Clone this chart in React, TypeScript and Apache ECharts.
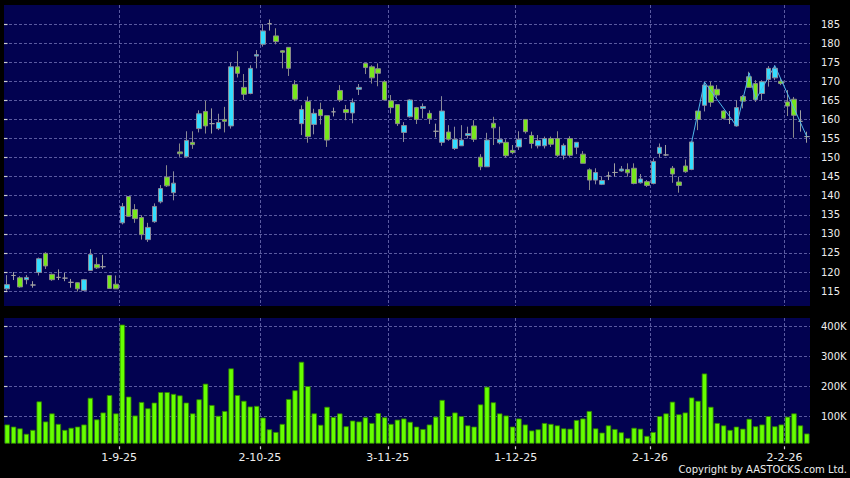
import React, { useEffect, useRef } from "react";
import * as echarts from "echarts";

const dates = [
  "2025-08-06","2025-08-07","2025-08-08","2025-08-11","2025-08-12","2025-08-13","2025-08-14","2025-08-15","2025-08-18","2025-08-19","2025-08-20","2025-08-21","2025-08-22","2025-08-25","2025-08-26","2025-08-27","2025-08-28","2025-08-29",
  "2025-09-01","2025-09-02","2025-09-03","2025-09-04","2025-09-05","2025-09-08","2025-09-09","2025-09-10","2025-09-11","2025-09-12","2025-09-15","2025-09-16","2025-09-17","2025-09-18","2025-09-19","2025-09-22","2025-09-23","2025-09-24","2025-09-25","2025-09-26","2025-09-29","2025-09-30",
  "2025-10-02","2025-10-03","2025-10-06","2025-10-08","2025-10-09","2025-10-10","2025-10-13","2025-10-14","2025-10-15","2025-10-16","2025-10-17","2025-10-20","2025-10-21","2025-10-22","2025-10-23","2025-10-24","2025-10-27","2025-10-28","2025-10-30","2025-10-31",
  "2025-11-03","2025-11-04","2025-11-05","2025-11-06","2025-11-07","2025-11-10","2025-11-11","2025-11-12","2025-11-13","2025-11-14","2025-11-17","2025-11-18","2025-11-19","2025-11-20","2025-11-21","2025-11-24","2025-11-25","2025-11-26","2025-11-27","2025-11-28",
  "2025-12-01","2025-12-02","2025-12-03","2025-12-04","2025-12-05","2025-12-08","2025-12-09","2025-12-10","2025-12-11","2025-12-12","2025-12-15","2025-12-16","2025-12-17","2025-12-18","2025-12-19","2025-12-22","2025-12-23","2025-12-24","2025-12-29","2025-12-30","2025-12-31",
  "2026-01-02","2026-01-05","2026-01-06","2026-01-07","2026-01-08","2026-01-09","2026-01-12","2026-01-13","2026-01-14","2026-01-15","2026-01-16","2026-01-19","2026-01-20","2026-01-21","2026-01-22","2026-01-23","2026-01-26","2026-01-27","2026-01-28","2026-01-29","2026-01-30",
  "2026-02-02","2026-02-03","2026-02-04","2026-02-05",
];

// [open, close, low, high]
const candles = [
  [115.6,116.7,115.1,119.2],[119.1,119.1,117.9,120.0],[118.5,116.1,115.9,118.9],[118.0,118.6,116.8,119.2],[116.6,116.6,115.9,117.6],
  [119.9,123.5,119.1,123.8],[124.9,121.6,120.8,125.2],[119.4,118.0,117.7,119.6],[118.6,118.6,117.9,120.7],[118.4,118.4,117.6,119.8],
  [117.3,117.3,115.9,118.2],[117.2,115.6,114.9,117.3],[115.2,118.0,115.1,118.2],[120.4,124.6,120.3,126.0],[122.0,121.1,120.8,123.8],
  [121.4,121.4,120.8,124.5],[119.1,115.7,115.6,119.1],[116.8,115.6,115.6,119.1],[132.9,137.2,132.5,138.1],[139.8,134.6,134.5,139.8],
  [136.4,134.0,132.9,137.8],[134.3,129.8,128.5,134.9],[128.5,131.7,127.9,132.9],[133.2,137.2,132.9,138.0],[138.4,141.9,138.0,142.8],
  [144.9,142.6,142.3,148.0],[140.8,143.3,138.8,146.4],[151.5,151.0,150.2,153.7],[150.2,154.5,150.0,156.9],[154.0,153.4,152.3,156.9],
  [157.6,161.5,156.6,162.4],[162.1,158.3,156.3,164.9],[158.9,158.9,156.3,162.9],[157.6,159.2,157.2,161.5],[160.0,159.5,156.6,163.3],
  [158.3,173.8,157.6,174.9],[173.8,172.1,171.0,177.9],[168.4,166.6,165.1,171.9],[166.8,173.4,166.6,174.2],[176.6,177.0,173.4,178.2],
  [179.7,183.2,179.1,185.0],[185.1,185.1,183.3,186.2],[181.9,180.4,179.7,183.9],[178.0,177.6,173.4,178.2],[178.9,173.4,171.4,178.9],
  [169.2,165.3,164.8,170.3],[158.9,162.6,155.9,163.7],[164.7,155.5,153.9,166.0],[158.7,161.6,156.1,162.8],[162.6,161.0,158.7,164.4],
  [161.0,154.6,152.8,161.0],[162.0,162.0,160.8,163.1],[167.6,165.1,164.6,169.0],[162.6,161.8,159.8,163.8],[161.7,164.5,159.0,165.5],
  [167.9,168.4,166.4,169.3],[174.7,173.6,171.9,174.9],[173.8,170.9,169.4,174.2],[173.3,172.1,168.7,174.7],[169.9,165.1,165.1,170.3],
  [164.9,163.1,161.6,166.4],[163.9,158.9,158.3,163.9],[156.6,158.4,154.1,159.3],[160.7,165.1,160.5,165.3],[163.1,160.0,158.8,163.3],
  [162.9,163.4,160.3,164.2],[161.6,160.2,158.8,162.4],[156.9,156.9,155.3,158.9],[154.0,162.2,153.1,166.1],[156.7,154.8,154.4,158.5],
  [152.4,154.8,152.0,158.1],[153.1,154.6,153.1,158.5],[155.8,156.3,155.0,158.1],[158.3,154.8,154.1,159.8],[150.1,147.6,146.7,150.9],
  [147.6,154.6,147.6,156.5],[159.0,157.8,153.3,160.7],[153.9,154.8,153.5,158.1],[154.0,150.5,150.0,154.8],[151.9,151.3,150.9,153.3],
  [152.8,154.8,152.0,156.9],[160.0,156.8,156.3,160.0],[155.8,153.7,152.4,156.8],[153.1,154.5,152.4,155.9],[153.1,155.0,152.4,155.5],
  [155.0,153.5,152.8,155.5],[155.0,150.6,150.2,156.9],[150.6,153.2,149.5,153.7],[155.0,150.6,150.2,155.6],[152.7,154.0,150.9,154.0],
  [150.9,148.5,148.5,151.7],[146.8,144.1,141.5,147.2],[144.1,146.1,143.0,147.2],[143.0,144.0,142.8,145.0],[145.2,145.2,144.1,146.3],
  [146.1,146.1,145.0,148.5],[146.5,147.0,146.3,147.8],[146.9,146.0,145.0,148.5],[147.2,143.2,143.0,148.5],[143.4,144.4,143.2,145.7],
  [143.7,142.7,142.3,144.1],[143.2,149.0,143.0,149.8],[151.1,152.7,150.0,153.7],[150.7,150.7,150.4,153.3],[147.2,145.7,143.4,147.8],
  [143.6,142.7,140.8,145.0],[147.8,146.3,146.0,149.5],[146.9,154.1,146.7,154.1],[162.2,160.0,157.2,162.2],[163.7,169.0,162.1,169.9],
  [168.8,164.5,163.3,169.9],[167.9,166.4,165.5,169.0],[162.2,160.3,160.0,162.4],[160.0,160.0,158.8,162.2],[158.3,163.1,158.1,165.1],
  [166.0,164.8,162.9,166.4],[171.2,168.4,168.4,172.5],[169.4,165.2,164.6,170.3],[166.8,169.9,165.1,170.3],[170.5,173.4,168.6,174.0],
  [170.9,173.4,170.3,174.2],[170.0,169.4,169.0,170.8],[164.6,163.5,160.9,167.7],[165.3,161.1,155.2,165.9],[159.5,159.5,156.8,162.4],
  [155.5,155.5,153.9,156.8],
];

const volumes = [
  74000,67000,61000,43000,56000,151000,84000,111000,76000,56000,
  63000,67000,74000,163000,91000,114000,172000,111000,407000,167000,
  104000,149000,128000,147000,182000,182000,176000,171000,147000,111000,
  158000,210000,139000,103000,119000,261000,172000,153000,134000,136000,
  97000,58000,49000,76000,159000,188000,283000,202000,111000,73000,
  133000,99000,111000,68000,87000,84000,98000,79000,112000,98000,
  76000,90000,94000,83000,67000,59000,74000,100000,156000,102000,
  114000,102000,71000,67000,141000,200000,148000,111000,104000,67000,
  94000,74000,54000,58000,79000,76000,71000,61000,60000,89000,
  94000,119000,61000,47000,71000,59000,48000,29000,63000,60000,
  36000,49000,102000,111000,150000,108000,114000,164000,153000,244000,
  133000,79000,71000,56000,67000,60000,93000,68000,74000,102000,
  68000,74000,100000,111000,71000,44000,
];

const trendPoints = [
  ["2026-01-12", 154.1],
  ["2026-01-14", 169.8],
  ["2026-01-21", 158.3],
  ["2026-01-23", 172.2],
  ["2026-01-26", 165.1],
  ["2026-01-29", 174.1],
  ["2026-02-05", 155.5],
];

const priceTicks = [115, 120, 125, 130, 135, 140, 145, 150, 155, 160, 165, 170, 175, 180, 185];
const volumeTicks = [100000, 200000, 300000, 400000];
const copyright = "Copyright by AASTOCKS.com Ltd.";

const monthStarts: number[] = dates
  .map((d, i) => (i > 0 && d.slice(5, 7) !== dates[i - 1].slice(5, 7) ? i : -1))
  .filter((i) => i >= 0);

const fmtDate = (v: number) => {
  const d = dates[Math.round(v)];
  if (!d) return "";
  const [y, m, dd] = d.split("-");
  return `${+dd}-${+m}-${y.slice(2)}`;
};

const FONT = "DejaVu Sans";
const GRIDLINE = { show: true, lineStyle: { color: "#5a5aa0", type: [3, 2] as any, width: 1 } };
const TICK = { color: "#d0d0d0", width: 1.2 };

export default function App() {
  const ref = useRef<HTMLDivElement>(null);
  useEffect(() => {
    if (!ref.current) return;
    const chart = echarts.init(ref.current, null, { renderer: "svg" });
    chart.setOption({
      animation: false,
      backgroundColor: "#000000",
      grid: [
        { left: 4, right: 40, top: 5, height: 301, show: true, backgroundColor: "#020250", borderWidth: 0 },
        { left: 4, right: 40, top: 318, height: 125.3, show: true, backgroundColor: "#020250", borderWidth: 0 },
      ],
      xAxis: [
        { type: "category", gridIndex: 0, data: dates, boundaryGap: true, show: false },
        { type: "category", gridIndex: 1, data: dates, boundaryGap: true, show: false },
        {
          type: "value", gridIndex: 0, min: 0, max: dates.length,
          axisLine: { show: false },
          axisTick: { show: false, customValues: monthStarts },
          axisLabel: { show: false },
          splitLine: GRIDLINE,
        },
        {
          type: "value", gridIndex: 1, min: 0, max: dates.length, position: "bottom", offset: 3,
          axisLine: { show: false },
          axisTick: { show: true, length: 3, customValues: monthStarts, lineStyle: TICK },
          axisLabel: {
            show: true, customValues: monthStarts, formatter: (v: number) => fmtDate(v),
            color: "#eeeeee", fontFamily: FONT, fontSize: 11, margin: 6,
          },
          splitLine: GRIDLINE,
        },
      ],
      yAxis: [
        {
          type: "value", gridIndex: 0, position: "right", min: 111.1, max: 190, offset: 3,
          axisLine: { show: false },
          axisTick: { show: true, length: 3.5, customValues: priceTicks, lineStyle: TICK },
          axisLabel: { customValues: priceTicks, color: "#eeeeee", fontFamily: FONT, fontSize: 10, margin: 8 },
          splitLine: GRIDLINE,
        },
        {
          type: "value", gridIndex: 1, position: "right", min: 11300, max: 429000, offset: 3,
          axisLine: { show: false },
          axisTick: { show: true, length: 3.5, customValues: volumeTicks, lineStyle: TICK },
          axisLabel: {
            customValues: volumeTicks, formatter: (v: number) => `${Math.round(v / 1000)}K`,
            color: "#eeeeee", fontFamily: FONT, fontSize: 10, margin: 8,
          },
          splitLine: GRIDLINE,
        },
      ],
      series: [
        {
          type: "candlestick",
          xAxisIndex: 0, yAxisIndex: 0,
          data: candles,
          barWidth: 5,
          itemStyle: {
            color: "#33ddff",
            color0: "#77e81c",
            borderColor: "#8a8a9a",
            borderColor0: "#8a8a8a",
            borderColorDoji: "#a0a0a0",
            borderWidth: 1,
          },
        },
        {
          type: "line",
          xAxisIndex: 0, yAxisIndex: 0,
          data: trendPoints,
          symbol: "none",
          lineStyle: { color: "#4fb8ea", width: 1 },
          z: 5,
        },
        {
          type: "bar",
          xAxisIndex: 1, yAxisIndex: 1,
          data: volumes,
          barWidth: 5.4,
          itemStyle: { color: "#66ff00", borderColor: "#2f7d00", borderWidth: 0.8 },
        },
      ],
      graphic: [
        {
          type: "text", right: 3, top: 464,
          style: { text: copyright, fill: "#eeeeee", font: `10px "${FONT}"` },
        },
      ],
    });
    return () => chart.dispose();
  }, []);
  return <div ref={ref} style={{ position: "fixed", left: 0, top: 0, width: 850, height: 478 }} />;
}
